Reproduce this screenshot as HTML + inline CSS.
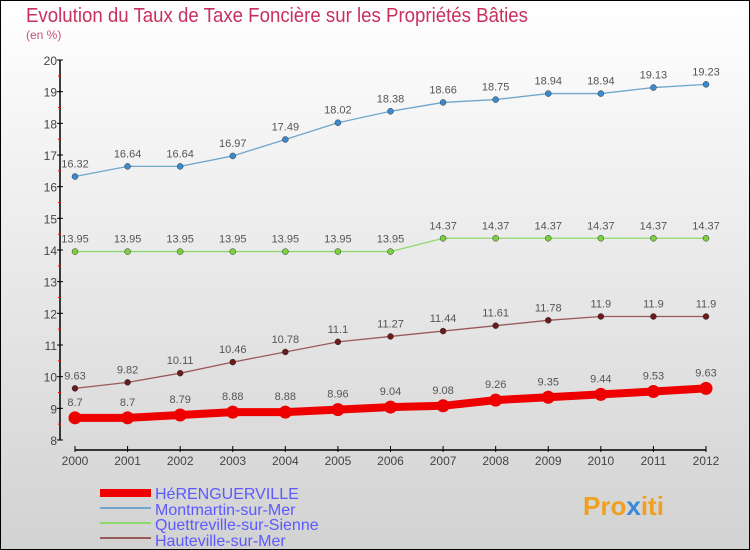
<!DOCTYPE html>
<html><head><meta charset="utf-8"><style>
body{margin:0;width:750px;height:550px;overflow:hidden}
svg{display:block;font-family:"Liberation Sans",sans-serif}
</style></head><body>
<svg id="c" width="750" height="550">
<defs><linearGradient id="bg" x1="0" y1="0" x2="0" y2="1"><stop offset="0" stop-color="#ffffff"/><stop offset="1" stop-color="#d2d2d2"/></linearGradient></defs>
<rect x="0.5" y="0.5" width="749" height="549" fill="url(#bg)" stroke="#000"/>
<text x="26" y="22" font-size="20" fill="#c8305e" textLength="502" lengthAdjust="spacingAndGlyphs">Evolution du Taux de Taxe Foncière sur les Propriétés Bâties</text>
<text x="26" y="39" font-size="12" fill="#c8507e">(en %)</text>
<g id="axes"></g><g id="series"></g>
<g>
<rect x="100" y="489" width="51" height="8" fill="#e00"/>
<text x="155" y="499" font-size="16" fill="#5a5aff">HéRENGUERVILLE</text>
<rect x="100" y="507" width="51" height="2" fill="#6fa6cc"/>
<text x="155" y="515" font-size="16" fill="#5a5aff">Montmartin-sur-Mer</text>
<rect x="100" y="522" width="51" height="2" fill="#8ed86a"/>
<text x="155" y="530" font-size="16" fill="#5a5aff">Quettreville-sur-Sienne</text>
<rect x="100" y="537" width="51" height="2" fill="#9a5a5a"/>
<text x="155" y="546" font-size="16" fill="#5a5aff">Hauteville-sur-Mer</text>
</g>
<text x="583" y="515" font-size="26" font-weight="bold" fill="#f0a020">Pro<tspan fill="#3a8ad8">x</tspan><tspan fill="#f0a020">iti</tspan></text>
</svg>
<script>
const years=[2000,2001,2002,2003,2004,2005,2006,2007,2008,2009,2010,2011,2012];
const yTicks=[8,9,10,11,12,13,14,15,16,17,18,19,20];
const herenguerville=[8.7,8.7,8.79,8.88,8.88,8.96,9.04,9.08,9.26,9.35,9.44,9.53,9.63];
const montmartin=[16.32,16.64,16.64,16.97,17.49,18.02,18.38,18.66,18.75,18.94,18.94,19.13,19.23];
const quettreville=[13.95,13.95,13.95,13.95,13.95,13.95,13.95,14.37,14.37,14.37,14.37,14.37,14.37];
const hauteville=[9.63,9.82,10.11,10.46,10.78,11.1,11.27,11.44,11.61,11.78,11.9,11.9,11.9];
const NS='http://www.w3.org/2000/svg';
const X=i=>75+i*(706-75)/(years.length-1);
const Y=v=>440-(v-8)*(380/12);
function mk(tag,at,parent){const e=document.createElementNS(NS,tag);for(const k in at)e.setAttribute(k,at[k]);parent.appendChild(e);return e;}
const ax=document.getElementById('axes');
let l=mk('line',{x1:60,y1:60,x2:60,y2:440,stroke:'#000','stroke-width':1.5},ax);


l=mk('line',{x1:75,y1:450,x2:706,y2:450,stroke:'#000','stroke-width':1.5},ax);


yTicks.forEach(v=>{
  const t=mk('line',{x1:57,x2:63,y1:Y(v),y2:Y(v),stroke:'#000'},ax);
  
  
  if(v<20){const m=mk('line',{x1:58,x2:61,y1:Y(v+0.5),y2:Y(v+0.5),stroke:'#f00'},ax);
  
  }
  const tx=mk('text',{x:57,y:Y(v)+5,'text-anchor':'end','font-size':12,fill:'#444'},ax);
  tx.textContent=v;
  
  
});
years.forEach((yr,i)=>{
  const t=mk('line',{x1:X(i),x2:X(i),y1:446,y2:452,stroke:'#000'},ax);
  
  
  const tx=mk('text',{x:X(i),y:465,'text-anchor':'middle','font-size':12,fill:'#444'},ax);
  tx.textContent=yr;
  
  
});
const sg=document.getElementById('series');
function series(vals,color,dot,w,r,name){
  const g=mk('g',{},sg);
  
  
  const p=mk('polyline',{points:vals.map((v,i)=>X(i)+','+Y(v)).join(' '),fill:'none',stroke:color,'stroke-width':w},g);
  
  
  vals.forEach((v,i)=>{
    const c=mk('circle',{cx:X(i),cy:Y(v),r:r,fill:dot,stroke:w>3?'none':'#333','stroke-width':0.5},g);
    
    
    const t=mk('text',{x:X(i),y:Y(v)-(w>3?12:9),'text-anchor':'middle','font-size':11,fill:'#555'},g);
    t.textContent=v;
    
    
  });
}
series(montmartin,'#6fa6cc','#3a8ad0',1.3,3,'montmartin');
series(quettreville,'#8ed86a','#7cd040',1.3,3,'quettreville');
series(hauteville,'#9a5a5a','#6a1a1a',1.3,3,'hauteville');
series(herenguerville,'#e00','#e00',8,6.5,'herenguerville');
</script>
</body></html>
